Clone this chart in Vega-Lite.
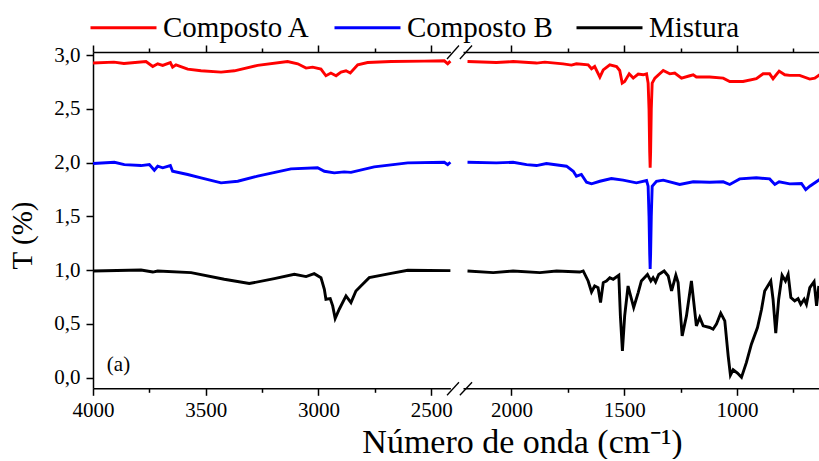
{
  "$schema": "https://vega.github.io/schema/vega-lite/v6.json",
  "padding": {"left": 8, "top": 13, "right": 0, "bottom": 0},
  "bounds": "flush",
  "config": {
    "font": "Liberation Serif",
    "view": {"stroke": null},
    "axis": {
      "grid": false,
      "domainColor": "#000000",
      "domainWidth": 1.5,
      "tickColor": "#000000",
      "tickWidth": 1.5,
      "labelColor": "#000000",
      "labelFont": "Liberation Serif",
      "labelFontSize": 21,
      "labelFlush": false,
      "labelOverlap": false,
      "labelBound": false,
      "titleFont": "Liberation Serif",
      "titleFontSize": 29,
      "titleFontWeight": "normal",
      "titleColor": "#000000"
    }
  },
  "datasets": {
    "ftir": [
      {"s": "Composto A", "nu": 4000, "T": 2.927}, {"s": "Composto A", "nu": 3907, "T": 2.936}, {"s": "Composto A", "nu": 3863, "T": 2.923},
      {"s": "Composto A", "nu": 3765, "T": 2.941}, {"s": "Composto A", "nu": 3735, "T": 2.895}, {"s": "Composto A", "nu": 3713, "T": 2.92},
      {"s": "Composto A", "nu": 3691, "T": 2.905}, {"s": "Composto A", "nu": 3657, "T": 2.932}, {"s": "Composto A", "nu": 3647, "T": 2.889},
      {"s": "Composto A", "nu": 3632, "T": 2.911}, {"s": "Composto A", "nu": 3580, "T": 2.871}, {"s": "Composto A", "nu": 3521, "T": 2.855},
      {"s": "Composto A", "nu": 3432, "T": 2.843}, {"s": "Composto A", "nu": 3373, "T": 2.855}, {"s": "Composto A", "nu": 3270, "T": 2.905},
      {"s": "Composto A", "nu": 3137, "T": 2.941}, {"s": "Composto A", "nu": 3092, "T": 2.92}, {"s": "Composto A", "nu": 3055, "T": 2.88},
      {"s": "Composto A", "nu": 3026, "T": 2.889}, {"s": "Composto A", "nu": 2989, "T": 2.871}, {"s": "Composto A", "nu": 2967, "T": 2.809},
      {"s": "Composto A", "nu": 2945, "T": 2.834}, {"s": "Composto A", "nu": 2922, "T": 2.809}, {"s": "Composto A", "nu": 2900, "T": 2.843},
      {"s": "Composto A", "nu": 2878, "T": 2.855}, {"s": "Composto A", "nu": 2859, "T": 2.834}, {"s": "Composto A", "nu": 2826, "T": 2.911},
      {"s": "Composto A", "nu": 2782, "T": 2.932}, {"s": "Composto A", "nu": 2678, "T": 2.941}, {"s": "Composto A", "nu": 2531, "T": 2.945},
      {"s": "Composto A", "nu": 2442, "T": 2.948}, {"s": "Composto A", "nu": 2427, "T": 2.92}, {"s": "Composto A", "nu": 2415, "T": 2.945},
      {"s": "Composto A", "nu": 2195, "T": 2.941}, {"s": "Composto A", "nu": 2067, "T": 2.932}, {"s": "Composto A", "nu": 1993, "T": 2.941},
      {"s": "Composto A", "nu": 1889, "T": 2.927}, {"s": "Composto A", "nu": 1852, "T": 2.936}, {"s": "Composto A", "nu": 1771, "T": 2.92},
      {"s": "Composto A", "nu": 1734, "T": 2.908}, {"s": "Composto A", "nu": 1712, "T": 2.92}, {"s": "Composto A", "nu": 1660, "T": 2.911},
      {"s": "Composto A", "nu": 1645, "T": 2.874}, {"s": "Composto A", "nu": 1631, "T": 2.895}, {"s": "Composto A", "nu": 1608, "T": 2.797},
      {"s": "Composto A", "nu": 1593, "T": 2.864}, {"s": "Composto A", "nu": 1564, "T": 2.911}, {"s": "Composto A", "nu": 1534, "T": 2.895},
      {"s": "Composto A", "nu": 1520, "T": 2.858}, {"s": "Composto A", "nu": 1509, "T": 2.741}, {"s": "Composto A", "nu": 1498, "T": 2.756},
      {"s": "Composto A", "nu": 1478, "T": 2.827}, {"s": "Composto A", "nu": 1460, "T": 2.787}, {"s": "Composto A", "nu": 1438, "T": 2.824},
      {"s": "Composto A", "nu": 1416, "T": 2.818}, {"s": "Composto A", "nu": 1401, "T": 2.827}, {"s": "Composto A", "nu": 1394, "T": 2.741},
      {"s": "Composto A", "nu": 1390, "T": 2.5}, {"s": "Composto A", "nu": 1387, "T": 2.1}, {"s": "Composto A", "nu": 1385, "T": 1.952},
      {"s": "Composto A", "nu": 1383, "T": 2.1}, {"s": "Composto A", "nu": 1380, "T": 2.5}, {"s": "Composto A", "nu": 1376, "T": 2.741},
      {"s": "Composto A", "nu": 1364, "T": 2.787}, {"s": "Composto A", "nu": 1327, "T": 2.858}, {"s": "Composto A", "nu": 1298, "T": 2.827},
      {"s": "Composto A", "nu": 1276, "T": 2.834}, {"s": "Composto A", "nu": 1246, "T": 2.787}, {"s": "Composto A", "nu": 1209, "T": 2.809},
      {"s": "Composto A", "nu": 1194, "T": 2.818}, {"s": "Composto A", "nu": 1180, "T": 2.797}, {"s": "Composto A", "nu": 1121, "T": 2.797},
      {"s": "Composto A", "nu": 1061, "T": 2.787}, {"s": "Composto A", "nu": 1032, "T": 2.756}, {"s": "Composto A", "nu": 973, "T": 2.756},
      {"s": "Composto A", "nu": 914, "T": 2.781}, {"s": "Composto A", "nu": 884, "T": 2.827}, {"s": "Composto A", "nu": 855, "T": 2.827},
      {"s": "Composto A", "nu": 840, "T": 2.781}, {"s": "Composto A", "nu": 813, "T": 2.852}, {"s": "Composto A", "nu": 788, "T": 2.818},
      {"s": "Composto A", "nu": 766, "T": 2.812}, {"s": "Composto A", "nu": 722, "T": 2.812}, {"s": "Composto A", "nu": 677, "T": 2.778},
      {"s": "Composto A", "nu": 655, "T": 2.787}, {"s": "Composto A", "nu": 633, "T": 2.818},

      {"s": "Composto B", "nu": 4000, "T": 1.992}, {"s": "Composto B", "nu": 3905, "T": 2.004}, {"s": "Composto B", "nu": 3861, "T": 1.982},
      {"s": "Composto B", "nu": 3787, "T": 1.973}, {"s": "Composto B", "nu": 3750, "T": 1.982}, {"s": "Composto B", "nu": 3728, "T": 1.93},
      {"s": "Composto B", "nu": 3713, "T": 1.967}, {"s": "Composto B", "nu": 3691, "T": 1.952}, {"s": "Composto B", "nu": 3657, "T": 1.973},
      {"s": "Composto B", "nu": 3647, "T": 1.92}, {"s": "Composto B", "nu": 3580, "T": 1.89}, {"s": "Composto B", "nu": 3521, "T": 1.859},
      {"s": "Composto B", "nu": 3432, "T": 1.812}, {"s": "Composto B", "nu": 3358, "T": 1.827}, {"s": "Composto B", "nu": 3270, "T": 1.874},
      {"s": "Composto B", "nu": 3122, "T": 1.942}, {"s": "Composto B", "nu": 3004, "T": 1.952}, {"s": "Composto B", "nu": 2974, "T": 1.92},
      {"s": "Composto B", "nu": 2930, "T": 1.905}, {"s": "Composto B", "nu": 2886, "T": 1.914}, {"s": "Composto B", "nu": 2856, "T": 1.91},
      {"s": "Composto B", "nu": 2753, "T": 1.961}, {"s": "Composto B", "nu": 2604, "T": 1.998}, {"s": "Composto B", "nu": 2442, "T": 2.004},
      {"s": "Composto B", "nu": 2427, "T": 1.982}, {"s": "Composto B", "nu": 2415, "T": 2.004},
      {"s": "Composto B", "nu": 2195, "T": 2.004}, {"s": "Composto B", "nu": 2067, "T": 1.998}, {"s": "Composto B", "nu": 1993, "T": 2.004},
      {"s": "Composto B", "nu": 1933, "T": 1.982}, {"s": "Composto B", "nu": 1889, "T": 1.973}, {"s": "Composto B", "nu": 1845, "T": 1.992},
      {"s": "Composto B", "nu": 1756, "T": 1.967}, {"s": "Composto B", "nu": 1726, "T": 1.92}, {"s": "Composto B", "nu": 1712, "T": 1.874},
      {"s": "Composto B", "nu": 1690, "T": 1.89}, {"s": "Composto B", "nu": 1667, "T": 1.818}, {"s": "Composto B", "nu": 1645, "T": 1.803},
      {"s": "Composto B", "nu": 1608, "T": 1.827}, {"s": "Composto B", "nu": 1557, "T": 1.852}, {"s": "Composto B", "nu": 1505, "T": 1.837},
      {"s": "Composto B", "nu": 1446, "T": 1.812}, {"s": "Composto B", "nu": 1401, "T": 1.834}, {"s": "Composto B", "nu": 1394, "T": 1.781},
      {"s": "Composto B", "nu": 1390, "T": 1.5}, {"s": "Composto B", "nu": 1387, "T": 1.15}, {"s": "Composto B", "nu": 1385, "T": 1.01},
      {"s": "Composto B", "nu": 1383, "T": 1.15}, {"s": "Composto B", "nu": 1380, "T": 1.5}, {"s": "Composto B", "nu": 1376, "T": 1.781},
      {"s": "Composto B", "nu": 1357, "T": 1.827}, {"s": "Composto B", "nu": 1327, "T": 1.837}, {"s": "Composto B", "nu": 1254, "T": 1.797},
      {"s": "Composto B", "nu": 1194, "T": 1.822}, {"s": "Composto B", "nu": 1121, "T": 1.818}, {"s": "Composto B", "nu": 1061, "T": 1.822},
      {"s": "Composto B", "nu": 1032, "T": 1.797}, {"s": "Composto B", "nu": 988, "T": 1.849}, {"s": "Composto B", "nu": 914, "T": 1.859},
      {"s": "Composto B", "nu": 855, "T": 1.849}, {"s": "Composto B", "nu": 832, "T": 1.797}, {"s": "Composto B", "nu": 813, "T": 1.822},
      {"s": "Composto B", "nu": 766, "T": 1.803}, {"s": "Composto B", "nu": 714, "T": 1.806}, {"s": "Composto B", "nu": 695, "T": 1.75},
      {"s": "Composto B", "nu": 677, "T": 1.781}, {"s": "Composto B", "nu": 633, "T": 1.843},

      {"s": "Mistura", "nu": 4000, "T": 0.992}, {"s": "Mistura", "nu": 3787, "T": 1.001}, {"s": "Mistura", "nu": 3735, "T": 0.982},
      {"s": "Mistura", "nu": 3713, "T": 0.992}, {"s": "Mistura", "nu": 3565, "T": 0.977}, {"s": "Mistura", "nu": 3418, "T": 0.915},
      {"s": "Mistura", "nu": 3307, "T": 0.875}, {"s": "Mistura", "nu": 3196, "T": 0.921}, {"s": "Mistura", "nu": 3107, "T": 0.961},
      {"s": "Mistura", "nu": 3055, "T": 0.94}, {"s": "Mistura", "nu": 3019, "T": 0.967}, {"s": "Mistura", "nu": 2989, "T": 0.93},
      {"s": "Mistura", "nu": 2974, "T": 0.822}, {"s": "Mistura", "nu": 2967, "T": 0.729}, {"s": "Mistura", "nu": 2948, "T": 0.735},
      {"s": "Mistura", "nu": 2937, "T": 0.667}, {"s": "Mistura", "nu": 2926, "T": 0.55}, {"s": "Mistura", "nu": 2908, "T": 0.636},
      {"s": "Mistura", "nu": 2878, "T": 0.76}, {"s": "Mistura", "nu": 2856, "T": 0.698}, {"s": "Mistura", "nu": 2834, "T": 0.806},
      {"s": "Mistura", "nu": 2812, "T": 0.852}, {"s": "Mistura", "nu": 2775, "T": 0.93}, {"s": "Mistura", "nu": 2678, "T": 0.97},
      {"s": "Mistura", "nu": 2604, "T": 0.998}, {"s": "Mistura", "nu": 2415, "T": 0.995},
      {"s": "Mistura", "nu": 2195, "T": 0.992}, {"s": "Mistura", "nu": 2081, "T": 0.977}, {"s": "Mistura", "nu": 1993, "T": 0.992},
      {"s": "Mistura", "nu": 1874, "T": 0.977}, {"s": "Mistura", "nu": 1800, "T": 0.992}, {"s": "Mistura", "nu": 1697, "T": 0.982},
      {"s": "Mistura", "nu": 1682, "T": 0.992}, {"s": "Mistura", "nu": 1660, "T": 0.899}, {"s": "Mistura", "nu": 1645, "T": 0.797},
      {"s": "Mistura", "nu": 1631, "T": 0.852}, {"s": "Mistura", "nu": 1616, "T": 0.837}, {"s": "Mistura", "nu": 1605, "T": 0.698},
      {"s": "Mistura", "nu": 1593, "T": 0.884}, {"s": "Mistura", "nu": 1579, "T": 0.899}, {"s": "Mistura", "nu": 1564, "T": 0.93},
      {"s": "Mistura", "nu": 1549, "T": 0.915}, {"s": "Mistura", "nu": 1524, "T": 0.952}, {"s": "Mistura", "nu": 1517, "T": 0.574},
      {"s": "Mistura", "nu": 1508, "T": 0.249}, {"s": "Mistura", "nu": 1498, "T": 0.574}, {"s": "Mistura", "nu": 1483, "T": 0.852},
      {"s": "Mistura", "nu": 1458, "T": 0.652}, {"s": "Mistura", "nu": 1438, "T": 0.791}, {"s": "Mistura", "nu": 1424, "T": 0.899},
      {"s": "Mistura", "nu": 1397, "T": 0.96}, {"s": "Mistura", "nu": 1382, "T": 0.899}, {"s": "Mistura", "nu": 1372, "T": 0.93},
      {"s": "Mistura", "nu": 1361, "T": 0.89}, {"s": "Mistura", "nu": 1347, "T": 0.96}, {"s": "Mistura", "nu": 1323, "T": 0.992},
      {"s": "Mistura", "nu": 1305, "T": 0.945}, {"s": "Mistura", "nu": 1290, "T": 0.806}, {"s": "Mistura", "nu": 1271, "T": 0.952},
      {"s": "Mistura", "nu": 1261, "T": 0.884}, {"s": "Mistura", "nu": 1243, "T": 0.388}, {"s": "Mistura", "nu": 1224, "T": 0.574},
      {"s": "Mistura", "nu": 1202, "T": 0.899}, {"s": "Mistura", "nu": 1180, "T": 0.481}, {"s": "Mistura", "nu": 1165, "T": 0.559},
      {"s": "Mistura", "nu": 1150, "T": 0.481}, {"s": "Mistura", "nu": 1121, "T": 0.466}, {"s": "Mistura", "nu": 1106, "T": 0.45},
      {"s": "Mistura", "nu": 1091, "T": 0.497}, {"s": "Mistura", "nu": 1072, "T": 0.599}, {"s": "Mistura", "nu": 1054, "T": 0.527},
      {"s": "Mistura", "nu": 1039, "T": 0.202}, {"s": "Mistura", "nu": 1029, "T": 0.023}, {"s": "Mistura", "nu": 1017, "T": 0.072},
      {"s": "Mistura", "nu": 998, "T": 0.042}, {"s": "Mistura", "nu": 980, "T": 0.002}, {"s": "Mistura", "nu": 958, "T": 0.141},
      {"s": "Mistura", "nu": 936, "T": 0.311}, {"s": "Mistura", "nu": 909, "T": 0.466}, {"s": "Mistura", "nu": 891, "T": 0.636},
      {"s": "Mistura", "nu": 877, "T": 0.806}, {"s": "Mistura", "nu": 850, "T": 0.899}, {"s": "Mistura", "nu": 840, "T": 0.729},
      {"s": "Mistura", "nu": 828, "T": 0.413}, {"s": "Mistura", "nu": 815, "T": 0.729}, {"s": "Mistura", "nu": 800, "T": 0.952},
      {"s": "Mistura", "nu": 785, "T": 0.899}, {"s": "Mistura", "nu": 773, "T": 0.96}, {"s": "Mistura", "nu": 761, "T": 0.745},
      {"s": "Mistura", "nu": 744, "T": 0.713}, {"s": "Mistura", "nu": 729, "T": 0.735}, {"s": "Mistura", "nu": 717, "T": 0.682},
      {"s": "Mistura", "nu": 702, "T": 0.729}, {"s": "Mistura", "nu": 692, "T": 0.682}, {"s": "Mistura", "nu": 677, "T": 0.837},
      {"s": "Mistura", "nu": 658, "T": 0.893}, {"s": "Mistura", "nu": 647, "T": 0.667}, {"s": "Mistura", "nu": 637, "T": 0.852}
    ],
    "breaks": [
      {"x1": 2430, "x2": 2377, "y1": -0.165, "y2": -0.044},
      {"x1": 2373, "x2": 2319, "y1": -0.165, "y2": -0.044},
      {"x1": 2430, "x2": 2377, "y1": 2.965, "y2": 3.09},
      {"x1": 2373, "x2": 2319, "y1": 2.965, "y2": 3.09}
    ],
    "tag": [{"nu": 3887, "T": 0.116, "label": "(a)"}]
  },
  "spacing": 12,
  "resolve": {"scale": {"color": "shared"}, "legend": {"color": "shared"}},
  "hconcat": [
    {
      "width": 357.4,
      "height": 336.3,
      "layer": [
        {
          "data": {"name": "ftir"},
          "transform": [{"filter": "datum.nu >= 2415"}],
          "mark": {"type": "line", "strokeWidth": 2.9},
          "encoding": {
            "x": {
              "field": "nu", "type": "quantitative",
              "scale": {"domain": [4000, 2415], "nice": false, "zero": false},
              "axis": {
                "orient": "bottom",
                "values": [4000, 3750, 3500, 3250, 3000, 2750, 2500],
                "labelExpr": "datum.value % 500 == 0 ? '' + datum.value : ''",
                "tickSize": {"condition": {"test": "datum.value % 500 == 0", "value": 7}, "value": 4},
                "labelPadding": 4,
                "title": "Número de onda (cm⁻¹)",
                "titleFontSize": 34,
                "titleX": 429,
                "titleY": 64,
                "titleAlign": "center",
                "titleBaseline": "alphabetic"
              }
            },
            "y": {
              "field": "T", "type": "quantitative",
              "scale": {"domain": [-0.1, 3.03], "nice": false, "zero": false},
              "axis": {
                "orient": "left",
                "values": [0, 0.25, 0.5, 0.75, 1, 1.25, 1.5, 1.75, 2, 2.25, 2.5, 2.75, 3],
                "labelExpr": "(datum.value * 4) % 2 == 0 ? replace(format(datum.value, '.1f'), '.', ',') : ''",
                "tickSize": {"condition": {"test": "(datum.value * 4) % 2 == 0", "value": 7}, "value": 4},
                "labelPadding": 6,
                "title": "T (%)",
                "titlePadding": 16,
                "titleY": 183
              }
            },
            "color": {
              "field": "s", "type": "nominal",
              "scale": {"domain": ["Composto A", "Composto B", "Mistura"], "range": ["#ff0000", "#0000ff", "#000000"]},
              "legend": {
                "orient": "none",
                "legendX": 16,
                "legendY": -39,
                "direction": "horizontal",
                "title": null,
                "symbolType": "M-3,0H3",
                "symbolSize": 484,
                "symbolStrokeWidth": 3,
                "symbolFillColor": "transparent",
                "labelFont": "Liberation Serif",
                "labelFontSize": 29,
                "labelColor": "#000000",
                "labelOffset": 25,
                "labelLimit": 400,
                "columnPadding": 17
              }
            }
          }
        },
        {
          "data": {"name": "ftir"},
          "transform": [{"filter": "datum.nu >= 2415"}],
          "mark": {"type": "line", "opacity": 0},
          "encoding": {
            "x": {
              "field": "nu", "type": "quantitative",
              "axis": {
                "orient": "top",
                "values": [4000, 3750, 3500, 3250, 3000, 2750, 2500],
                "labels": false,
                "tickSize": {"condition": {"test": "datum.value % 500 == 0", "value": 7}, "value": 4},
                "title": null
              }
            },
            "y": {"field": "T", "type": "quantitative"}
          }
        },
        {
          "data": {"name": "breaks"},
          "mark": {"type": "rule", "color": "#000000", "strokeWidth": 1.3},
          "encoding": {
            "x": {"field": "x1", "type": "quantitative", "axis": null},
            "x2": {"field": "x2"},
            "y": {"field": "y1", "type": "quantitative"},
            "y2": {"field": "y2"}
          }
        },
        {
          "data": {"name": "tag"},
          "mark": {"type": "text", "fontSize": 21, "font": "Liberation Serif", "color": "#000000", "align": "center", "baseline": "middle"},
          "encoding": {
            "x": {"field": "nu", "type": "quantitative", "axis": null},
            "y": {"field": "T", "type": "quantitative"},
            "text": {"field": "label"}
          }
        }
      ],
      "resolve": {"axis": {"x": "independent"}}
    },
    {
      "width": 357.4,
      "height": 336.3,
      "layer": [
        {
          "data": {"name": "ftir"},
          "transform": [{"filter": "datum.nu <= 2215"}],
          "mark": {"type": "line", "strokeWidth": 2.9},
          "encoding": {
            "x": {
              "field": "nu", "type": "quantitative",
              "scale": {"domain": [2215, 630], "nice": false, "zero": false},
              "axis": {
                "orient": "bottom",
                "values": [2000, 1750, 1500, 1250, 1000, 750],
                "labelExpr": "datum.value % 500 == 0 ? '' + datum.value : ''",
                "tickSize": {"condition": {"test": "datum.value % 500 == 0", "value": 7}, "value": 4},
                "labelPadding": 4,
                "title": null
              }
            },
            "y": {
              "field": "T", "type": "quantitative",
              "scale": {"domain": [-0.1, 3.03], "nice": false, "zero": false},
              "axis": null
            },
            "color": {"field": "s", "type": "nominal"}
          }
        },
        {
          "data": {"name": "ftir"},
          "transform": [{"filter": "datum.nu <= 2215"}],
          "mark": {"type": "line", "opacity": 0},
          "encoding": {
            "x": {
              "field": "nu", "type": "quantitative",
              "axis": {
                "orient": "top",
                "values": [2000, 1750, 1500, 1250, 1000, 750],
                "labels": false,
                "tickSize": {"condition": {"test": "datum.value % 500 == 0", "value": 7}, "value": 4},
                "title": null
              }
            },
            "y": {"field": "T", "type": "quantitative", "axis": null}
          }
        }
      ],
      "resolve": {"axis": {"x": "independent"}}
    }
  ]
}
